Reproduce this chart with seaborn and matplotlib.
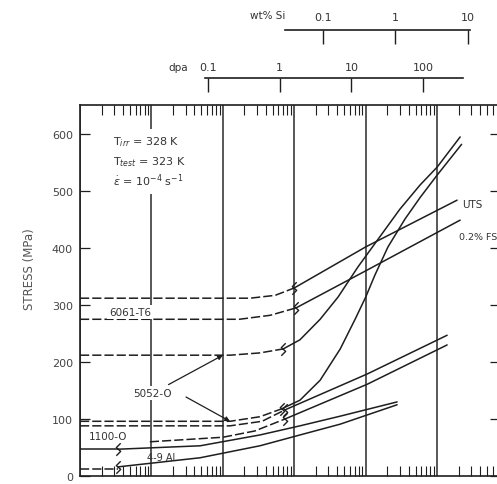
import numpy as np
import pandas as pd
import matplotlib.pyplot as plt
import seaborn as sns
from matplotlib.path import Path
from matplotlib.ticker import LogLocator, NullFormatter

# fluence (n/m^2) and stress (MPa)
t6_uts_dash_f = [1e23, 2.4e25, 5.4e25, 1.0e26]
t6_uts_dash_s = [312, 312, 317, 330]
t6_uts_f = [1.0e26, 1.0e27, 1.9e28]
t6_uts_s = [330, 402, 484]

t6_ys_dash_f = [1e23, 1.7e25, 4.6e25, 1.06e26]
t6_ys_dash_s = [275, 275, 282, 295]
t6_ys_f = [1.06e26, 1.0e27, 2.1e28]
t6_ys_s = [295, 360, 449]

a5052_uts_dash_f = [1e23, 1.26e25, 3.3e25, 7.0e25]
a5052_uts_dash_s = [212, 212, 216, 223]
a5052_uts_f = [7.0e25, 1.2e26, 2.3e26, 4.1e26, 7.8e26, 1.5e27, 3.0e27, 5.8e27, 1.0e28, 2.1e28]
a5052_uts_s = [223, 239, 275, 314, 367, 416, 468, 511, 542, 595]

a5052_ys_dash_f = [1e23, 1.26e25, 3.3e25, 6.7e25]
a5052_ys_dash_s = [96, 96, 104, 118]
a5052_ys_f = [6.7e25, 1.2e26, 2.3e26, 4.4e26, 7.1e26, 1.0e27, 1.35e27, 2.05e27, 3.55e27, 5.8e27, 1.0e28, 2.2e28]
a5052_ys_s = [118, 133, 168, 223, 275, 314, 353, 402, 451, 489, 528, 582]

a1100_uts_dash_f = [1e23, 1.26e25, 3.54e25, 7.4e25]
a1100_uts_dash_s = [88, 88, 96, 116]
a1100_uts_f = [7.4e25, 1.05e27, 1.38e28]
a1100_uts_s = [116, 179, 247]

a1100_ys_dash_f = [9.5e23, 1.0e25, 2.8e25, 7.4e25]
a1100_ys_dash_s = [60, 68, 79, 100]
a1100_ys_f = [7.4e25, 1.05e27, 1.38e28]
a1100_ys_s = [100, 161, 230]

al49_uts_pre_f = [1e23, 3.4e23]
al49_uts_pre_s = [47, 47]
al49_uts_f = [3.4e23, 4.8e24, 3.3e25, 1.2e26, 4.4e26, 2.75e27]
al49_uts_s = [47, 53, 72, 88, 105, 130]

al49_ys_dash_f = [1e23, 3.4e23]
al49_ys_dash_s = [12, 12]
al49_ys_f = [3.4e23, 4.8e24, 3.3e25, 1.2e26, 4.4e26, 2.75e27]
al49_ys_s = [16, 32, 53, 72, 91, 125]

dpa_ticks = [0.1, 1, 10, 100]
dpa_labels = ["0.1", "1", "10", "100"]
si_ticks = [0.1, 1, 10]
si_labels = ["0.1", "1", "10"]
y_ticks = [0, 100, 200, 300, 400, 500, 600]

segments = [
    ("6061 UTS a", "unirr", t6_uts_dash_f, t6_uts_dash_s),
    ("6061 UTS b", "irr", t6_uts_f, t6_uts_s),
    ("6061 YS a", "unirr", t6_ys_dash_f, t6_ys_dash_s),
    ("6061 YS b", "irr", t6_ys_f, t6_ys_s),
    ("5052 UTS a", "unirr", a5052_uts_dash_f, a5052_uts_dash_s),
    ("5052 UTS b", "irr", a5052_uts_f, a5052_uts_s),
    ("5052 YS a", "unirr", a5052_ys_dash_f, a5052_ys_dash_s),
    ("5052 YS b", "irr", a5052_ys_f, a5052_ys_s),
    ("1100 UTS a", "unirr", a1100_uts_dash_f, a1100_uts_dash_s),
    ("1100 UTS b", "irr", a1100_uts_f, a1100_uts_s),
    ("1100 YS a", "unirr", a1100_ys_dash_f, a1100_ys_dash_s),
    ("1100 YS b", "irr", a1100_ys_f, a1100_ys_s),
    ("4-9 UTS a", "irr", al49_uts_pre_f, al49_uts_pre_s),
    ("4-9 UTS b", "irr", al49_uts_f, al49_uts_s),
    ("4-9 YS a", "unirr", al49_ys_dash_f, al49_ys_dash_s),
    ("4-9 YS b", "irr", al49_ys_f, al49_ys_s),
]

rows = []
for name, state, f, s in segments:
    for fi, si in zip(f, s):
        rows.append({"curve": name, "state": state, "fluence": fi, "stress": si})
df = pd.DataFrame(rows)

# break marks where the irradiated curves begin
breaks = [(f[0], s[0]) for name, state, f, s in segments if name.endswith("b")]

sns.set_theme(style="white")
plt.rcParams["font.family"] = ["DejaVu Sans"]
ink = "#1e1e1e"
W, H = 497, 485

fig = plt.figure(figsize=(W / 100, H / 100), dpi=100)
ax = fig.add_axes([80 / W, 1 - 477 / H, 420 / W, 371 / H])

sns.lineplot(data=df, x="fluence", y="stress", units="curve", estimator=None,
             style="state", dashes={"unirr": (6, 2), "irr": ""}, color=ink,
             linewidth=1.1, sort=False, legend=False, ax=ax)

zig = Path([(-0.35, -1), (0.35, -0.3), (-0.35, 0.3), (0.35, 1)],
           [Path.MOVETO, Path.LINETO, Path.LINETO, Path.LINETO])
bx, by = zip(*breaks)
ax.plot(bx, by, ls="none", marker=zig, ms=9, mew=1.0, mec=ink, mfc="none", zorder=4)

ax.set_xscale("log")
ax.set_xlim(1e23, 10 ** 28.88)
ax.set_ylim(0, 651)
ax.xaxis.set_major_locator(LogLocator(base=10))
ax.xaxis.set_minor_locator(LogLocator(base=10, subs=np.arange(2, 10)))
ax.xaxis.set_major_formatter(NullFormatter())
ax.xaxis.set_minor_formatter(NullFormatter())
ax.grid(axis="x", which="major", color="#2a2a2a", lw=1.1)
ax.tick_params(axis="x", which="major", length=0, top=True, bottom=True)
ax.tick_params(axis="x", which="minor", direction="in", length=7, width=0.8,
               color=ink, top=True, bottom=True)
ax.set_yticks(y_ticks)
ax.tick_params(axis="y", which="major", direction="in", length=7, width=0.9,
               color=ink, left=True, right=True, labelsize=8,
               labelcolor="#444444", pad=5)
for sp in ax.spines.values():
    sp.set_color(ink)
    sp.set_linewidth(1.2)
ax.set_xlabel("")
ax.set_ylabel("STRESS (MPa)", fontsize=8.5, color="#555555")
ax.yaxis.set_label_coords(-0.105, 0.56)


def fx(px):
    return px / W


def fy(py):
    return 1 - py / H


box = dict(facecolor="white", edgecolor="none", pad=1.5)
for ypix, txt in [(142, r"T$_{irr}$ = 328 K"), (162, r"T$_{test}$ = 323 K"),
                  (181, r"$\dot{\varepsilon}$ = 10$^{-4}$ s$^{-1}$")]:
    fig.text(fx(113), fy(ypix), txt, fontsize=8, color="#333333", va="center",
             bbox=dict(facecolor="white", edgecolor="none", pad=4))
fig.text(fx(130), fy(313), "6061-T6", fontsize=7.5, color="#333333", ha="center",
         va="center", bbox=box)
fig.text(fx(108), fy(437), "1100-O", fontsize=7.5, color="#333333", ha="center",
         va="center", bbox=box)
fig.text(fx(161), fy(458), "4-9 Al", fontsize=7, color="#333333", ha="center", va="center")
fig.text(fx(462), fy(205), "UTS", fontsize=7.5, color="#333333", va="center")
fig.text(fx(459), fy(237), "0.2% FS", fontsize=6.8, color="#333333", va="center")

tip1 = (1.0e25, np.interp(25, np.log10(a5052_uts_dash_f), a5052_uts_dash_s))
tip2 = (1.26e25, np.interp(np.log10(1.26e25), np.log10(a5052_ys_dash_f), a5052_ys_dash_s))
ax.annotate("5052-O", xy=tip1, xytext=(153, H - 394), textcoords="figure pixels",
            fontsize=7.5, color="#333333", ha="center", va="center",
            bbox=box, arrowprops=dict(arrowstyle="-|>", color=ink, lw=0.9,
                                      mutation_scale=7, shrinkA=2, shrinkB=0))
ax.annotate("", xy=tip2, xytext=(186, H - 398), textcoords="figure pixels",
            arrowprops=dict(arrowstyle="-|>", color=ink, lw=0.9,
                            mutation_scale=7, shrinkA=0, shrinkB=0))


def top_scale(left, right, ypix, lo, hi, ticks, labels, pad):
    a = fig.add_axes([fx(left), fy(ypix) - 0.02, (right - left) / W, 0.02])
    a.set_facecolor("none")
    a.set_xscale("log")
    a.set_xlim(lo, hi)
    for k in ["bottom", "left", "right"]:
        a.spines[k].set_visible(False)
    a.spines["top"].set_color(ink)
    a.spines["top"].set_linewidth(1.2)
    a.set_yticks([])
    a.set_xticks(ticks)
    a.set_xticklabels(labels)
    a.xaxis.set_minor_locator(LogLocator(base=10, subs=[]))
    a.xaxis.tick_top()
    a.tick_params(axis="x", which="major", direction="in", length=10, width=1.0,
                  color=ink, labelsize=8, labelcolor="#333333", pad=pad)
    a.tick_params(axis="x", which="minor", length=0)
    return a


top_scale(205, 463, 79, 10 ** -1.042, 10 ** 2.558, dpa_ticks, dpa_labels, 4)
top_scale(285, 470, 31, 10 ** -1.524, 10 ** 1.028, si_ticks, si_labels, 6)
fig.text(fx(178), fy(68), "dpa", fontsize=7.5, color="#333333", ha="center", va="center")
fig.text(fx(268), fy(16), "wt% Si", fontsize=7.5, color="#333333", ha="center", va="center")

fig.savefig("out.png", dpi=100)
